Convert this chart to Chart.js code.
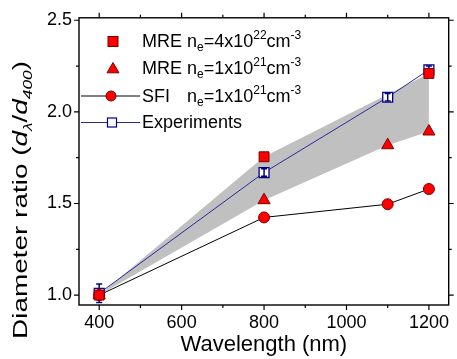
<!DOCTYPE html>
<html><head><meta charset="utf-8">
<script src="https://cdn.jsdelivr.net/npm/chart.js@4.4.0/dist/chart.umd.min.js"></script>
<style>html,body{margin:0;padding:0;background:#fff}#wrap{width:457px;height:359px}</style>
</head><body><div id="wrap"><canvas id="c" width="457" height="359"></canvas></div>
<script>
// ---- data ----
const wavelengths = [400, 800, 1100, 1200];
const mreHighX = [400, 800, 1200];
const mreHighY = [1.0, 1.755, 2.21];
const mreLowY = [1.0, 1.518, 1.818, 1.893];
const sfiY = [1.0, 1.424, 1.496, 1.579];
const expY = [1.01, 1.669, 2.08, 2.23];
const expErr = [0.05, 0.02, 0.02, 0.02];
const xTicks = [400, 600, 800, 1000, 1200];
const xMinor = [500, 700, 900, 1100];
const yTicks = [1.0, 1.5, 2.0, 2.5];
const yMinor = [1.25, 1.75, 2.25];

const FONT = "'Liberation Sans', Arial, sans-serif";
const RED = '#ff0000', RED_EDGE = '#7a0000', NAVY = '#000080', BLUE_LINE = '#2a2aa0';

const errPlugin = {
  id: 'errbars',
  afterDatasetDraw(chart, args) {
    if (args.index !== 3) return;
    const ctx = chart.ctx, xs = chart.scales.x, ys = chart.scales.y;
    ctx.save(); ctx.strokeStyle = NAVY; ctx.lineWidth = 1.5;
    wavelengths.forEach((w, i) => {
      const x = xs.getPixelForValue(w);
      const y1 = ys.getPixelForValue(expY[i] - expErr[i]);
      const y2 = ys.getPixelForValue(expY[i] + expErr[i]);
      ctx.beginPath();
      ctx.moveTo(x, y1); ctx.lineTo(x, y2);
      ctx.moveTo(x - 3, y1); ctx.lineTo(x + 3, y1);
      ctx.moveTo(x - 3, y2); ctx.lineTo(x + 3, y2);
      ctx.stroke();
    });
    ctx.restore();
  }
};

function drawRich(ctx, x, y, parts) {
  let cx = x;
  for (const p of parts) {
    const [t, kind, it] = p;
    let size = 18, dy = 0;
    if (kind === 'sub') { size = 12; dy = 4; }
    if (kind === 'sup') { size = 12; dy = -8; }
    ctx.font = (it ? 'italic ' : '') + size + 'px ' + FONT;
    ctx.fillText(t, cx, y + dy);
    cx += ctx.measureText(t).width;
  }
  return cx;
}

const framePlugin = {
  id: 'frame',
  afterDraw(chart) {
    const ctx = chart.ctx, a = chart.chartArea, xs = chart.scales.x, ys = chart.scales.y;
    ctx.save();
    ctx.strokeStyle = '#000'; ctx.lineWidth = 1.4;
    ctx.strokeRect(a.left, a.top, a.right - a.left, a.bottom - a.top);
    ctx.lineWidth = 1.2;
    ctx.beginPath();
    const tick = (vals, len) => {
      vals.forEach(v => {
        const x = xs.getPixelForValue(v);
        ctx.moveTo(x, a.bottom); ctx.lineTo(x, a.bottom + len);
        ctx.moveTo(x, a.top); ctx.lineTo(x, a.top - len);
      });
    };
    const ytick = (vals, len) => {
      vals.forEach(v => {
        const y = ys.getPixelForValue(v);
        ctx.moveTo(a.left, y); ctx.lineTo(a.left - len, y);
        ctx.moveTo(a.right, y); ctx.lineTo(a.right + len, y);
      });
    };
    tick(xTicks, 5); tick(xMinor, 3); ytick(yTicks, 5); ytick(yMinor, 3);
    ctx.stroke();

    // x title
    ctx.fillStyle = '#000';
    ctx.font = '22px ' + FONT;
    ctx.textAlign = 'center'; ctx.textBaseline = 'alphabetic';
    ctx.fillText('Wavelength (nm)', (a.left + a.right) / 2, 351);

    // y title (rich, rotated)
    ctx.textAlign = 'left';
    const yparts = [['Diameter ratio (', 'n', false], ['d', 'n', true], ['\u03bb', 'sub', true], ['/', 'n', false], ['d', 'n', true], ['400', 'sub', true], [')', 'n', false]];
    const sz = k => (k === 'n') ? 21 : 13;
    let wTot = 0;
    for (const [t, k, it] of yparts) {
      ctx.font = (it ? 'italic ' : '') + sz(k) + 'px ' + FONT;
      wTot += ctx.measureText(t).width;
    }
    const s = 278 / wTot;
    ctx.save();
    ctx.translate(27, 200);
    ctx.rotate(-Math.PI / 2);
    ctx.scale(s, 1);
    let cx = -wTot / 2;
    for (const [t, k, it] of yparts) {
      ctx.font = (it ? 'italic ' : '') + sz(k) + 'px ' + FONT;
      ctx.fillText(t, cx, k === 'sub' ? 5 : 0);
      cx += ctx.measureText(t).width;
    }
    ctx.restore();

    // legend
    ctx.textAlign = 'left'; ctx.textBaseline = 'alphabetic'; ctx.fillStyle = '#000';
    ctx.font = '18px ' + FONT;
    const nX = 142 + ctx.measureText('MRE ').width;
    // row 1: square
    ctx.fillStyle = RED; ctx.strokeStyle = RED_EDGE; ctx.lineWidth = 1;
    ctx.fillRect(108, 36.5, 10, 10); ctx.strokeRect(108, 36.5, 10, 10);
    ctx.fillStyle = '#000';
    drawRich(ctx, 142, 47, [['MRE n'], ['e', 'sub'], ['=4x10'], ['22', 'sup'], ['cm'], ['-3', 'sup']]);
    // row 2: triangle
    ctx.fillStyle = RED; ctx.strokeStyle = RED_EDGE;
    ctx.beginPath(); ctx.moveTo(113, 62.5); ctx.lineTo(119, 72.8); ctx.lineTo(107, 72.8); ctx.closePath();
    ctx.fill(); ctx.stroke();
    ctx.fillStyle = '#000';
    drawRich(ctx, 142, 74, [['MRE n'], ['e', 'sub'], ['=1x10'], ['21', 'sup'], ['cm'], ['-3', 'sup']]);
    // row 3: line + circle
    ctx.strokeStyle = '#000'; ctx.lineWidth = 1;
    ctx.beginPath(); ctx.moveTo(81, 96); ctx.lineTo(140, 96); ctx.stroke();
    ctx.fillStyle = RED; ctx.strokeStyle = RED_EDGE;
    ctx.beginPath(); ctx.arc(111, 96, 5, 0, Math.PI * 2); ctx.fill(); ctx.stroke();
    ctx.fillStyle = '#000';
    drawRich(ctx, 142, 101.5, [['SFI']]);
    drawRich(ctx, nX, 101.5, [['n'], ['e', 'sub'], ['=1x10'], ['21', 'sup'], ['cm'], ['-3', 'sup']]);
    // row 4: blue line + open square
    ctx.strokeStyle = BLUE_LINE; ctx.lineWidth = 1;
    ctx.beginPath(); ctx.moveTo(81, 122.5); ctx.lineTo(140, 122.5); ctx.stroke();
    ctx.fillStyle = '#fff'; ctx.strokeStyle = NAVY; ctx.lineWidth = 1.2;
    ctx.fillRect(107.5, 118, 9, 9); ctx.strokeRect(107.5, 118, 9, 9);
    ctx.fillStyle = '#000';
    drawRich(ctx, 142, 128, [['Experiments']]);
    ctx.restore();
  }
};

new Chart(document.getElementById('c'), {
  type: 'line',
  data: {
    datasets: [
      {
        label: 'MRE ne=4x10^22',
        data: mreHighX.map((x, i) => ({ x: x, y: mreHighY[i] })),
        borderWidth: 0, borderColor: 'rgba(0,0,0,0)', backgroundColor: '#c0c0c0',
        fill: '+1', tension: 0,
        pointStyle: 'rect', pointRadius: 7, pointBackgroundColor: RED, pointBorderColor: RED_EDGE, pointBorderWidth: 1
      },
      {
        label: 'MRE ne=1x10^21',
        data: wavelengths.map((x, i) => ({ x: x, y: mreLowY[i] })),
        borderWidth: 0, borderColor: 'rgba(0,0,0,0)', fill: false, tension: 0,
        pointStyle: 'triangle', pointRadius: 7, pointBackgroundColor: RED, pointBorderColor: RED_EDGE, pointBorderWidth: 1
      },
      {
        label: 'SFI',
        data: wavelengths.map((x, i) => ({ x: x, y: sfiY[i] })),
        borderWidth: 1, borderColor: '#000', fill: false, tension: 0,
        pointStyle: 'circle', pointRadius: 5.5, pointBackgroundColor: RED, pointBorderColor: RED_EDGE, pointBorderWidth: 1
      },
      {
        label: 'Experiments',
        data: wavelengths.map((x, i) => ({ x: x, y: expY[i] })),
        borderWidth: 1, borderColor: BLUE_LINE, fill: false, tension: 0,
        pointStyle: 'rect', pointRadius: 7, pointBackgroundColor: '#fff', pointBorderColor: NAVY, pointBorderWidth: 1.3
      }
    ]
  },
  options: {
    responsive: false, animation: false, devicePixelRatio: 1, events: [],
    layout: { padding: { left: 0, right: 5, top: 15, bottom: 0 } },
    plugins: {
      legend: { display: false }, tooltip: { enabled: false },
      filler: { drawTime: 'beforeDatasetsDraw', propagate: false }
    },
    scales: {
      x: {
        type: 'linear', min: 351, max: 1248,
        afterBuildTicks: s => { s.ticks = xTicks.map(v => ({ value: v })); },
        afterFit: s => { s.height = 54; },
        grid: { display: false, drawTicks: false }, border: { display: false },
        ticks: { font: { family: FONT, size: 18 }, color: '#000', padding: 7, maxRotation: 0, autoSkip: false, callback: v => String(v) }
      },
      y: {
        type: 'linear', min: 0.946, max: 2.5135,
        afterBuildTicks: s => { s.ticks = yTicks.map(v => ({ value: v })); },
        afterFit: s => { s.width = 79; },
        grid: { display: false, drawTicks: false }, border: { display: false },
        ticks: { font: { family: FONT, size: 18 }, color: '#000', padding: 7, callback: v => v.toFixed(1) }
      }
    }
  },
  plugins: [errPlugin, framePlugin]
});
</script>
</body></html>
